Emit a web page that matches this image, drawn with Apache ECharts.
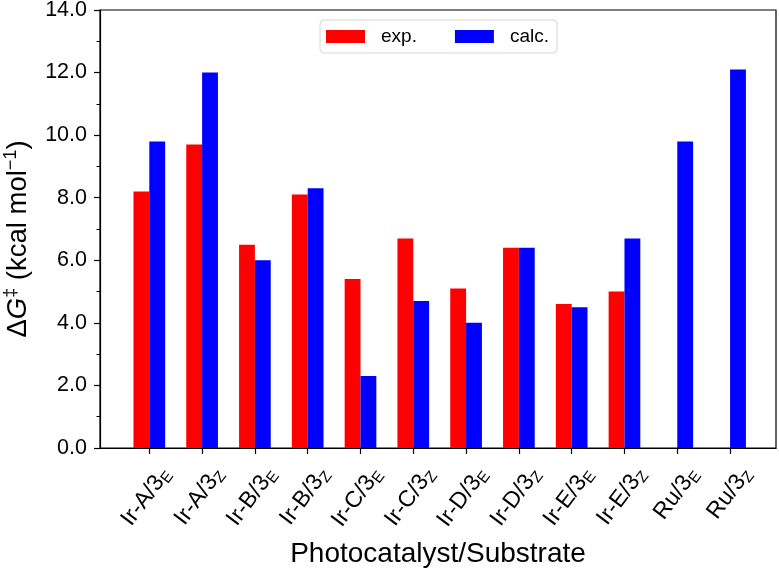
<!DOCTYPE html>
<html>
<head>
<meta charset="utf-8">
<script src="https://cdn.jsdelivr.net/npm/echarts@6/dist/echarts.min.js"></script>
<style>html,body{margin:0;padding:0;background:#fff;}#c{width:779px;height:576px;}</style>
</head>
<body>
<div id="c"></div>
<script>
const categories = ['Ir-A/3E', 'Ir-A/3Z', 'Ir-B/3E', 'Ir-B/3Z', 'Ir-C/3E', 'Ir-C/3Z', 'Ir-D/3E', 'Ir-D/3Z', 'Ir-E/3E', 'Ir-E/3Z', 'Ru/3E', 'Ru/3Z'];
const expValues = [8.2, 9.7, 6.5, 8.1, 5.4, 6.7, 5.1, 6.4, 4.6, 5.0, null, null];
const calcValues = [9.8, 12.0, 6.0, 8.3, 2.3, 4.7, 4.0, 6.4, 4.5, 6.7, 9.8, 12.1];
const seriesNames = ['exp.', 'calc.'];
const yMin = 0, yMax = 14, yInterval = 2;

const FONT = 'Liberation Sans, Arial, Helvetica, sans-serif';
const labelShift = 0.32;
const tickPositions = categories.map((_, i) => i);
const labelPositions = categories.map((_, i) => i + labelShift);

const chart = echarts.init(document.getElementById('c'));
chart.setOption({
  backgroundColor: '#fff',
  animation: false,
  textStyle: { fontFamily: FONT, color: '#000' },
  grid: {
    left: 100, top: 10, right: 3, bottom: 128,
    containLabel: false, outerBoundsMode: 'none',
    show: true, borderColor: '#000', borderWidth: 1.2, backgroundColor: 'transparent'
  },
  legend: {
    data: seriesNames,
    left: 320, top: 20,
    orient: 'horizontal',
    icon: 'rect',
    itemWidth: 39, itemHeight: 13,
    itemGap: 38,
    padding: [7, 8, 7, 6],
    borderColor: '#d6d6d6', borderWidth: 1, borderRadius: 4,
    backgroundColor: '#fff',
    textStyle: { fontFamily: FONT, fontSize: 19, color: '#000', padding: [0, 0, 0, 11] }
  },
  xAxis: {
    type: 'value',
    min: -0.934, max: 11.87,
    name: 'Photocatalyst/Substrate',
    nameLocation: 'middle',
    nameGap: 92,
    nameTextStyle: { fontFamily: FONT, fontSize: 28, color: '#000' },
    axisLine: { show: true, onZero: false, lineStyle: { color: '#000', width: 1.2 } },
    axisTick: { show: true, inside: false, length: 6, customValues: tickPositions, lineStyle: { color: '#000', width: 1.2 } },
    splitLine: { show: false },
    axisLabel: {
      show: true,
      rotate: 53,
      margin: 22,
      hideOverlap: false,
      customValues: labelPositions,
      formatter: function (v) {
        const idx = Math.round(v - labelShift);
        const name = categories[idx] || '';
        return '{m|' + name.slice(0, -1) + '}{s|' + name.slice(-1) + '}';
      },
      rich: {
        m: { fontFamily: FONT, fontSize: 23, color: '#000', lineHeight: 27 },
        s: { fontFamily: FONT, fontSize: 15.5, color: '#000', lineHeight: 10, verticalAlign: 'bottom' }
      }
    }
  },
  yAxis: {
    type: 'value',
    min: yMin, max: yMax, interval: yInterval,
    name: '{a|Δ}{g|G}{p|‡}{a| (kcal mol}{p|−1}{a|)}',
    nameLocation: 'middle',
    nameGap: 66,
    nameTextStyle: {
      padding: [0, 20, 0, 0],
      rich: {
        a: { fontFamily: FONT, fontSize: 27.5, color: '#000', lineHeight: 32 },
        g: { fontFamily: FONT, fontSize: 27.5, color: '#000', lineHeight: 32, fontStyle: 'italic' },
        p: { fontFamily: FONT, fontSize: 18, color: '#000', lineHeight: 14, verticalAlign: 'top' }
      }
    },
    axisLine: { show: true, onZero: false, lineStyle: { color: '#000', width: 1.2 } },
    axisTick: { show: true, inside: false, length: 6, lineStyle: { color: '#000', width: 1.2 } },
    minorTick: { show: true, splitNumber: 2, length: 3.5, lineStyle: { color: '#000', width: 1 } },
    splitLine: { show: false },
    minorSplitLine: { show: false },
    axisLabel: {
      margin: 13,
      fontFamily: FONT, fontSize: 21.5, color: '#000',
      formatter: function (v) { return v.toFixed(1); }
    }
  },
  series: [
    {
      name: seriesNames[0],
      type: 'bar',
      barWidth: '30%',
      barGap: '0%',
      itemStyle: { color: '#ff0000' },
      data: expValues.map((v, i) => [i, v])
    },
    {
      name: seriesNames[1],
      type: 'bar',
      barWidth: '30%',
      barGap: '0%',
      itemStyle: { color: '#0000ff' },
      data: calcValues.map((v, i) => [i, v])
    }
  ]
});
</script>
</body>
</html>
